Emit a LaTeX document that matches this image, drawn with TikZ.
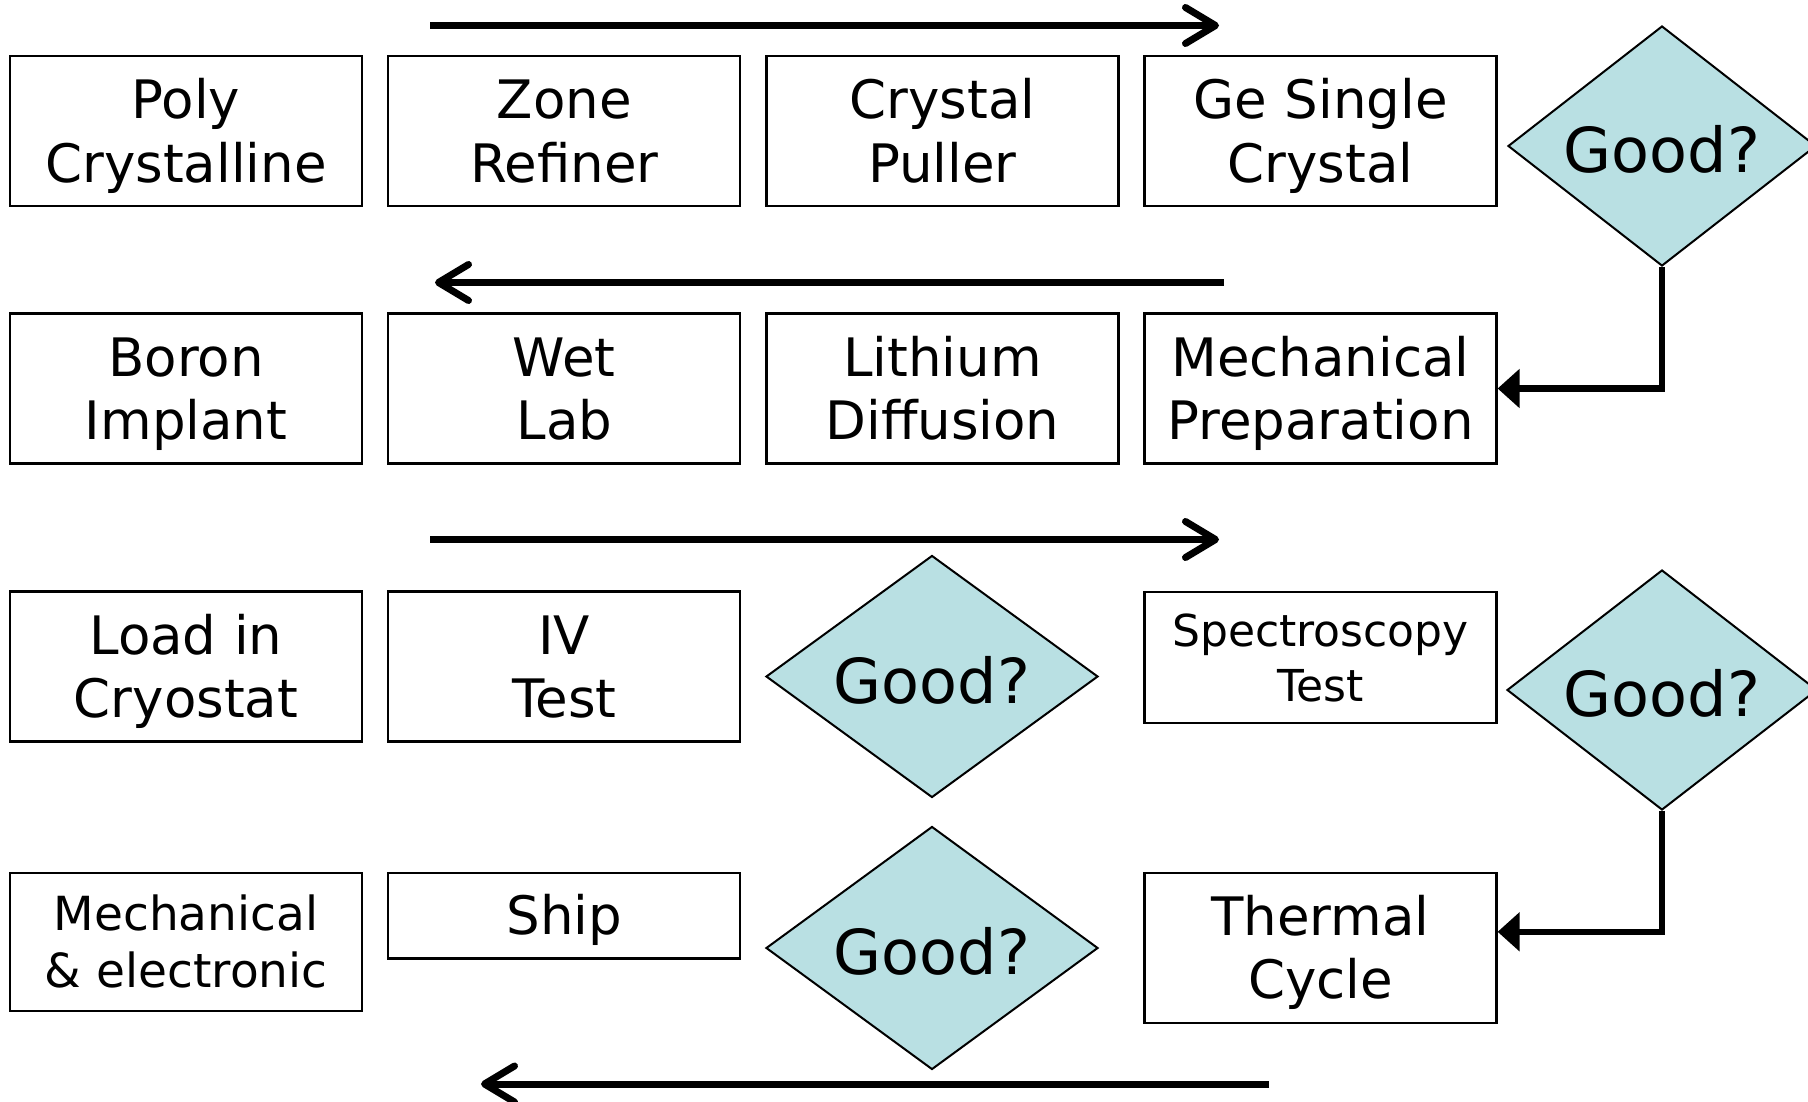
\documentclass[tikz,border=0pt]{standalone}
\usepackage{fontspec}
\setmainfont{DejaVu Sans}
\usetikzlibrary{shapes.geometric,arrows.meta}
\definecolor{goodfill}{RGB}{185,224,227}
\begin{document}
\begin{tikzpicture}[x=1pt,y=-1pt,
  box/.style={draw=black, line width=2.2pt, fill=white, minimum width=352pt, inner sep=0pt,
    text width=345pt, align=center, font=\fontsize{53}{63.5}\selectfont},
  two/.style={minimum height=150pt, text height=0pt, text depth=25pt},
  decision/.style={diamond, aspect=1.3, draw=black, line width=2pt, fill=goodfill, inner sep=0pt,
    text height=53pt, text depth=0pt, font=\fontsize{62}{74}\selectfont},
  flow/.style={line width=7pt, -{Straight Barb[length=30pt,width=36pt,line cap=round,line join=round]}},
  elbow/.style={line width=6.5pt, -{Triangle[length=22pt,width=38pt]}}
]
\useasboundingbox (0,0) rectangle (1808,1101);

% row 1
\node[box,two] (poly)   at (186,131.2)   {Poly\\Crystalline};
\node[box,two] (zone)   at (564.3,131.2) {Zone\\Refiner};
\node[box,two] (puller) at (942.5,131.2) {Crystal\\Puller};
\node[box,two] (gesc)   at (1320.5,131.2) {Ge Single\\Crystal};
\node[decision, minimum width=308pt, minimum height=240pt] (good1) at (1662,146) {Good?};

% row 2
\node[box,two] (boron)    at (186,388.5)    {Boron\\Implant};
\node[box,two] (wetlab)   at (564.3,388.5)  {Wet\\Lab};
\node[box,two] (lithium)  at (942.5,388.5)  {Lithium\\Diffusion};
\node[box,two] (mechprep) at (1320.5,388.5) {Mechanical\\Preparation};

% row 3
\node[box,two] (load)   at (186,666.5)   {Load in\\Cryostat};
\node[box,two] (ivtest) at (564.3,666.5) {IV\\Test};
\node[decision, minimum width=332pt, minimum height=242pt] (good2) at (932,676.5) {Good?};
\node[box, minimum height=131pt, text height=0pt, text depth=22.6pt,
      font=\fontsize{44}{55}\selectfont] (spectro) at (1320.5,657.3) {Spectroscopy\\Test};
\node[decision, minimum width=310pt, minimum height=240pt] (good3) at (1662,690) {Good?};

% row 4
\node[box, minimum height=138pt, text height=0pt, text depth=23pt,
      font=\fontsize{47}{56.5}\selectfont] (mechel) at (186,942) {Mechanical\\\& electronic};
\node[box, minimum height=85.5pt, text height=37pt, text depth=0pt] (ship) at (564.3,915.7) {Ship};
\node[decision, minimum width=332pt, minimum height=243pt] (good4) at (932,948) {Good?};
\node[box,two] (thermal) at (1320.5,947.8) {Thermal\\Cycle};

% flow arrows
\coordinate (f1s) at (430,25.5);   \coordinate (f1e) at (1219,25.5);
\coordinate (f2s) at (1224,282.5); \coordinate (f2e) at (435,282.5);
\coordinate (f3s) at (430,539.5);  \coordinate (f3e) at (1219,539.5);
\coordinate (f4s) at (1269,1084);  \coordinate (f4e) at (481,1084);
\draw[flow] (f1s) -- (f1e);
\draw[flow] (f2s) -- (f2e);
\draw[flow] (f3s) -- (f3e);
\draw[flow] (f4s) -- (f4e);

% decision connectors
\draw[elbow] (good1.south) |- (mechprep.east);
\draw[elbow] (good3.south) |- ([yshift=16pt]thermal.east);
\end{tikzpicture}
\end{document}
